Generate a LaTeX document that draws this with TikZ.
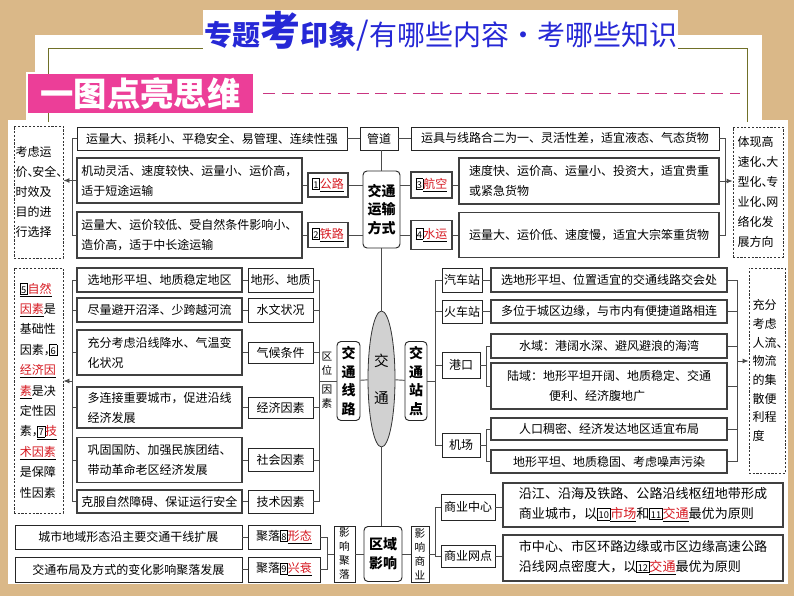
\documentclass[tikz,border=0pt]{standalone}
\usepackage{fontspec}
\setmainfont{Noto Sans CJK SC}
\usepackage{tikz}
\usetikzlibrary{arrows.meta,shapes.geometric}
\definecolor{wood}{RGB}{218,184,136}
\definecolor{qred}{RGB}{214,24,32}
\definecolor{tblue}{RGB}{38,40,214}
\definecolor{qpink}{RGB}{236,62,152}
\definecolor{frameol}{RGB}{112,112,40}
\setlength{\fboxsep}{0.6pt}
\setlength{\fboxrule}{0.4pt}
\newcommand{\qn}[1]{\fbox{\rule{0pt}{0.72em}\fontsize{7}{7}\selectfont #1}}
\newcommand{\ans}[1]{\underline{\textcolor{qred}{#1}}}
\newcommand{\dun}{\makebox[0.4em][l]{、}}
\newcommand{\dou}{\makebox[0.45em][l]{，}}
\tikzset{sz/.style 2 args={minimum width=#1*0.75pt, minimum height=#2*0.75pt}}

\begin{document}
\begin{tikzpicture}[x=0.75pt, y=-0.75pt,
font=\fontsize{9}{15}\selectfont,
box/.style={draw=black!85, line width=0.7pt, fill=white, inner sep=1pt, align=center},
bbox/.style={box, line width=1.2pt, draw=black!75},
dbox/.style={draw=black!80, dash pattern=on 1.6pt off 1.2pt, line width=0.6pt, fill=white, inner sep=1pt, align=left},
rbox/.style={box, rounded corners=3pt, font=\fontsize{10.5}{14}\selectfont\bfseries},
vbox/.style={box, inner sep=0.5pt, font=\fontsize{8}{10.5}\selectfont},
conn/.style={draw=black!70, line width=0.7pt},
arrow/.style={conn, -{Latex[length=1.6mm, width=1.3mm]}}
]
\useasboundingbox (0,0) rectangle (794,596);
\fill[wood] (0,0) rectangle (794,596);
\fill[white] (35,35) rectangle (762,122);
\fill[white] (26,72) rectangle (40,122);
\fill[white] (8,120) rectangle (788,584);
\draw[frameol, line width=0.6pt] (48,122) -- (48,48) -- (205,48);
\draw[frameol, line width=0.6pt] (678,48) -- (747,48) -- (747,122);

\node[fill=white, text=tblue, inner sep=1pt, anchor=west] (title) at (203,31) {{\bfseries\fontsize{21}{24}\selectfont 专题}{\bfseries\fontsize{30}{30}\selectfont 考}{\bfseries\fontsize{21}{24}\selectfont 印象}{\fontsize{24}{24}\selectfont /}{\fontsize{21}{24}\selectfont 有哪些内容·考哪些知识}};
\node[fill=qpink, text=white, sz={225}{39}, inner sep=0pt, font=\fontsize{25}{25}\selectfont\bfseries] (banner) at (140.5,93.5) {一图点亮思维};
\coordinate (dashend) at (740,93.5);
\draw[qpink!85!black, line width=0.8pt, dash pattern=on 9pt off 5pt] (banner.east) ++(10,0) -- (dashend);

\node[dbox, sz={49}{132}] (choose) at (38.5,192) {考虑运\\价\dun 安全\dun\\时效及\\目的进\\行选择};
\node[box, sz={270}{23}] (pipe) at (212,138.5) {运量大、损耗小、平稳安全、易管理、连续性强};
\node[box, sz={38}{23}] (gd) at (379,138.5) {管道};
\node[bbox, sz={225}{45}, align=left] (road) at (189.5,180.5) {机动灵活、速度较快、运量小、运价高，\\适于短途运输};
\node[bbox, sz={40}{24}] (gl) at (328,185) {\qn{1}\ans{公路}};
\node[rbox, sz={37}{77}] (ysfs) at (381.5,209.5) {交通\\运输\\方式};
\node[bbox, sz={225}{46}, align=left] (rail) at (189.5,235) {运量大、运价较低、受自然条件影响小、\\造价高，适于中长途运输};
\node[bbox, sz={40}{25}] (tl) at (328,235) {\qn{2}\ans{铁路}};
\node[box, sz={308}{23}] (pipe2) at (565,138.5) {运具与线路合二为一、灵活性差，适宜液态、气态货物};
\node[bbox, sz={41}{26}] (hk) at (431.5,185) {\qn{3}\ans{航空}};
\node[bbox, sz={260}{46}, align=left] (air) at (589,181) {速度快、运价高、运量小、投资大，适宜贵重\\或紧急货物};
\node[bbox, sz={41}{29}] (sy) at (431.5,235) {\qn{4}\ans{水运}};
\node[bbox, sz={260}{45}] (water) at (589,235) {运量大、运价低、速度慢，适宜大宗笨重货物};
\node[dbox, sz={50}{130}] (trend) at (758,192) {体现高\\速化\dun 大\\型化\dun 专\\业化\dun 网\\络化发\\展方向};

\draw[conn] (pipe) -- (gd);
\draw[conn] (gd) -- (pipe2);
\draw[conn] (ysfs.north) -- (ysfs.north |- gd.south);
\draw[conn] (gl.west) -- (gl.west -| road.east);
\draw[conn] (gl.east) -- (gl.east -| ysfs.west);
\draw[conn] (rail) -- (tl);
\draw[conn] (tl.east) -- (tl.east -| ysfs.west);
\draw[conn] (hk.west) -- (hk.west -| ysfs.east);
\draw[conn] (hk.east) -- (hk.east -| air.west);
\draw[conn] (sy.west) -- (sy.west -| ysfs.east);
\draw[conn] (sy) -- (water);
\coordinate (lx) at (72,0);
\draw[conn] (pipe.west) -- (pipe.west -| lx) -- (rail.west -| lx) -- (rail.west);
\draw[conn] (road.west) -- (road.west -| lx);
\draw[arrow] (road.west -| lx) -- (road.west -| choose.east);
\coordinate (rx) at (725,0);
\draw[conn] (pipe2.east) -- (pipe2.east -| rx) -- (water.east -| rx) -- (water.east);
\draw[conn] (air.east) -- (air.east -| rx);
\draw[arrow] (air.east -| rx) -- (air.east -| trend.west);

\node[ellipse, draw=black!80, fill=black!18, line width=0.6pt, sz={27}{136}, inner sep=0pt, align=center, font=\fontsize{11}{28}\selectfont] (jt) at (381.5,379) {交\\通};
\draw[conn] (ysfs) -- (jt);

\node[dbox, sz={49}{245}, font=\fontsize{9}{15.3}\selectfont] (factor) at (38.5,390.5) {\underline{\qn{5}\textcolor{qred}{自然}}\\\ans{因素}是\\基础性\\因素\dou\qn{6}\\\ans{经济因}\\\ans{素}是决\\定性因\\素\dou\underline{\qn{7}\textcolor{qred}{技}}\\\ans{术因素}\\是保障\\性因素};
\node[bbox, sz={165}{24}] (r1) at (159.5,280) {选地形平坦、地质稳定地区};
\node[bbox, sz={165}{24}] (r2) at (159.5,310) {尽量避开沼泽、少跨越河流};
\node[bbox, sz={165}{45}, align=left] (r3) at (159.5,352.5) {充分考虑沿线降水、气温变\\化状况};
\node[bbox, sz={165}{41}, align=left] (r4) at (159.5,407.5) {多连接重要城市，促进沿线\\经济发展};
\node[bbox, sz={165}{45}, align=left] (r5) at (159.5,460) {巩固国防、加强民族团结、\\带动革命老区经济发展};
\node[bbox, sz={165}{23}] (r6) at (159.5,501.5) {克服自然障碍、保证运行安全};
\node[box, sz={65}{24}] (k1) at (280.5,280) {地形、地质};
\node[box, sz={65}{24}] (k2) at (280.5,310) {水文状况};
\node[box, sz={65}{21}] (k3) at (280.5,352.5) {气候条件};
\node[box, sz={65}{21}] (k4) at (280.5,407.5) {经济因素};
\node[box, sz={65}{23}] (k5) at (280.5,460) {社会因素};
\node[box, sz={65}{23}] (k6) at (280.5,501.5) {技术因素};
\node[rbox, sz={23}{79}] (xl) at (348.5,381) {交\\通\\线\\路};
\node[inner sep=0pt, align=center, font=\fontsize{8}{10.5}\selectfont] (qw1) at (327,364) {区\\位};
\node[inner sep=0pt, align=center, font=\fontsize{8}{10.5}\selectfont] (qw2) at (327,397) {因\\素};

\draw[conn] (r1) -- (k1);
\draw[conn] (r2) -- (k2);
\draw[conn] (r3) -- (k3);
\draw[conn] (r4) -- (k4);
\draw[conn] (r5) -- (k5);
\draw[conn] (r6) -- (k6);
\draw[conn] (r1.west) -- (r1.west -| lx) -- (r6.west -| lx) -- (r6.west);
\draw[conn] (r2.west) -- (r2.west -| lx);
\draw[conn] (r3.west) -- (r3.west -| lx);
\draw[conn] (r4.west) -- (r4.west -| lx);
\draw[conn] (r5.west) -- (r5.west -| lx);
\draw[arrow] (xl.west -| lx) -- (xl.west -| factor.east);
\coordinate (qx) at (319,0);
\draw[conn] (k1.east) -- (k1.east -| qx) -- (k6.east -| qx) -- (k6.east);
\draw[conn] (k2.east) -- (k2.east -| qx);
\draw[conn] (k3.east) -- (k3.east -| qx);
\draw[conn] (k4.east) -- (k4.east -| qx);
\draw[conn] (k5.east) -- (k5.east -| qx);
\draw[conn] (xl.west -| qx) -- (xl.west);
\draw[conn] (xl) -- (jt);

\node[rbox, sz={22}{79}] (zd) at (416,381) {交\\通\\站\\点};
\node[box, sz={40}{24}] (bus) at (462,280) {汽车站};
\node[box, sz={40}{23}] (train) at (462,311.5) {火车站};
\node[box, sz={38}{26}] (port) at (461,365) {港口};
\node[box, sz={38}{24}] (airport) at (461,445) {机场};
\node[bbox, sz={236}{24}] (d1) at (609,280) {选地形平坦、位置适宜的交通线路交会处};
\node[bbox, sz={236}{23}] (d2) at (609,311.5) {多位于城区边缘，与市内有便捷道路相连};
\node[bbox, sz={236}{24}] (d3) at (609,346) {水域：港阔水深、避风避浪的海湾};
\node[bbox, sz={236}{46}, align=left] (d4) at (609,386) {陆域：地形平坦开阔、地质稳定、交通\\\hspace{3.5em}便利、经济腹地广};
\node[bbox, sz={236}{22}] (d5) at (609,429) {人口稠密、经济发达地区适宜布局};
\node[bbox, sz={236}{23}] (d6) at (609,461.5) {地形平坦、地质稳固、考虑噪声污染};
\node[dbox, sz={36}{205}, font=\fontsize{9}{14}\selectfont] (flow) at (767,370.5) {充分\\考虑\\人流\dun\\物流\\的集\\散便\\利程\\度};

\draw[conn] (jt) -- (zd);
\coordinate (sx) at (435,0);
\draw[conn] (zd.east) -- (zd.east -| sx);
\draw[conn] (bus.west) -- (bus.west -| sx) -- (airport.west -| sx) -- (airport.west);
\draw[conn] (train.west) -- (train.west -| sx);
\draw[conn] (port.west) -- (port.west -| sx);
\draw[conn] (bus) -- (d1);
\draw[conn] (train) -- (d2);
\coordinate (px) at (486,0);
\draw[conn] (port.east) -- (port.east -| px);
\draw[conn] (d3.west) -- (d3.west -| px) -- (d4.west -| px) -- (d4.west);
\draw[conn] (airport.east) -- (airport.east -| px);
\draw[conn] (d5.west) -- (d5.west -| px) -- (d6.west -| px) -- (d6.west);
\coordinate (ex) at (737,0);
\draw[conn] (d1.east) -- (d1.east -| ex) -- (d6.east -| ex) -- (d6.east);
\draw[conn] (d2.east) -- (d2.east -| ex);
\draw[conn] (d3.east) -- (d3.east -| ex);
\draw[conn] (d4.east) -- (d4.east -| ex);
\draw[conn] (d5.east) -- (d5.east -| ex);
\coordinate (fa) at (737,361);
\draw[arrow] (fa) -- (fa -| flow.west);

\node[box, sz={227}{24}] (b1) at (128.5,537) {城市地域形态沿主要交通干线扩展};
\node[box, sz={227}{25}] (b2) at (128.5,569.5) {交通布局及方式的变化影响聚落发展};
\node[box, sz={72}{24}] (p1) at (284,537) {聚落\qn{8}\ans{形态}};
\node[box, sz={72}{25}] (p2) at (284,569.5) {聚落\qn{9}\ans{兴衰}};
\node[vbox, sz={21}{56}] (yxjl) at (344.5,554) {影\\响\\聚\\落};
\node[rbox, sz={38}{55}] (qyyx) at (383,554) {区域\\影响};
\node[vbox, sz={18}{56}] (yxsy) at (420,554) {影\\响\\商\\业};
\node[box, sz={54}{26}] (c1) at (468,507) {商业中心};
\node[box, sz={54}{22}] (c2) at (468,556) {商业网点};
\node[bbox, sz={280}{44}, align=left, font=\fontsize{9.8}{15}\selectfont] (e1) at (643,505) {沿江、沿海及铁路、公路沿线枢纽地带形成\\商业城市，以\qn{10}\ans{市场}和\qn{11}\ans{交通}最优为原则};
\node[bbox, sz={280}{46}, align=left, font=\fontsize{9.8}{15}\selectfont] (e2) at (643,558) {市中心、市区环路边缘或市区边缘高速公路\\沿线网点密度大，以\qn{12}\ans{交通}最优为原则};

\draw[conn] (jt.south) -- (jt.south |- qyyx.north);
\draw[conn] (b1) -- (p1);
\draw[conn] (b2) -- (p2);
\coordinate (jx) at (327,0);
\draw[conn] (p1.east) -- (p1.east -| jx) -- (p2.east -| jx) -- (p2.east);
\draw[conn] (yxjl.west -| jx) -- (yxjl.west);
\draw[conn] (yxjl) -- (qyyx);
\draw[conn] (qyyx) -- (yxsy);
\coordinate (cx) at (435,0);
\draw[conn] (yxsy.east) -- (yxsy.east -| cx);
\draw[conn] (c1.west) -- (c1.west -| cx) -- (c2.west -| cx) -- (c2.west);
\draw[conn] (c1.east) -- (c1.east -| e1.west);
\draw[conn] (c2.east) -- (c2.east -| e2.west);
\end{tikzpicture}
\end{document}
